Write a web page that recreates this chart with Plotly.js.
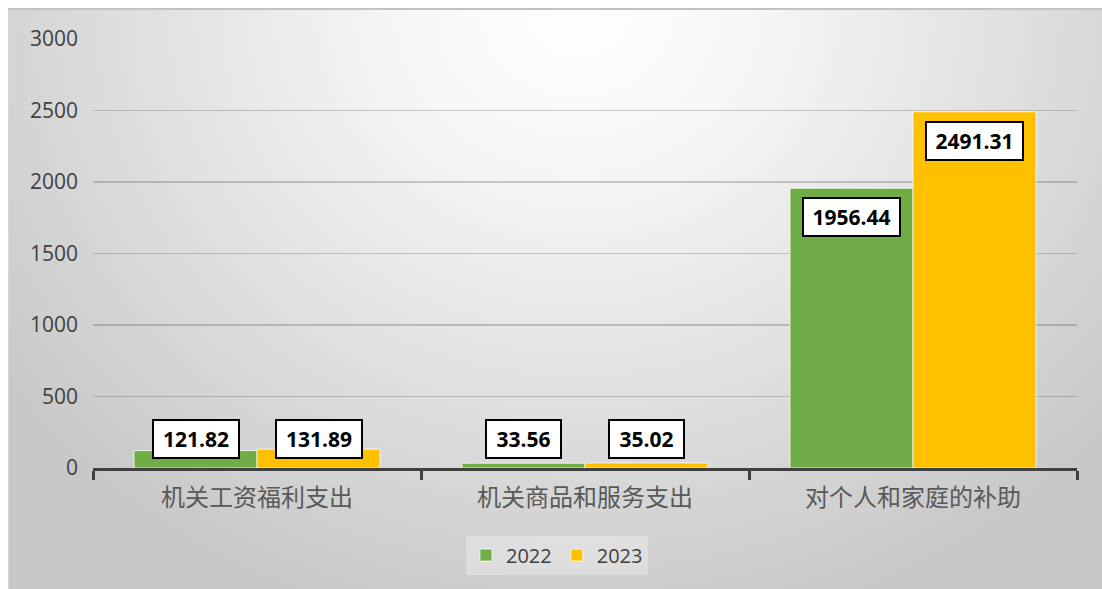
<!DOCTYPE html>
<html>
<head>
<meta charset="utf-8">
<script src="https://cdn.plot.ly/plotly-3.0.1.min.js"></script>
<style>
  html, body { margin: 0; padding: 0; background: #ffffff; }
  #wrap { position: relative; width: 1102px; height: 589px; overflow: hidden; }
  #bg {
    position: absolute; left: 8px; top: 8px; width: 1094px; height: 581px;
    border-top: 2px solid #c2c2c2; border-left: 1px solid #d6d6d6; box-sizing: border-box;
    background: radial-gradient(ellipse 65% 110% at 52% 0%, #ffffff 0%, #f6f6f6 25%, #e4e4e4 55%, #d4d4d4 80%, #c8c8c8 100%);
  }
  #chart { position: absolute; left: 0; top: 0; width: 1102px; height: 589px; }
</style>
</head>
<body>
<div id="wrap">
  <div id="bg"></div>
  <div id="chart"></div>
</div>
<script>
const categories = ["机关工资福利支出", "机关商品和服务支出", "对个人和家庭的补助"];
const seriesNames = ["2022", "2023"];
const values2022 = [121.82, 33.56, 1956.44];
const values2023 = [131.89, 35.02, 2491.31];
const yTicks = [0, 500, 1000, 1500, 2000, 2500, 3000];

const colors = ["#70AD47", "#FFC000"];
const allValues = [values2022, values2023];

const traces = allValues.map((vals, i) => ({
  type: "bar",
  name: seriesNames[i],
  x: categories,
  y: vals,
  marker: { color: colors[i], line: { color: "rgba(255,255,255,0.75)", width: 1 } },
  hoverinfo: "skip"
}));

const bargap = 0.25;
const barW = (1 - bargap) / 2;
const annotations = [];
allValues.forEach((vals, s) => {
  vals.forEach((v, c) => {
    const txt = v.toFixed(2);
    annotations.push({
      xref: "x", yref: "y",
      x: c + (s === 0 ? -barW / 2 : barW / 2),
      y: Math.max(v, 406),
      yshift: -29,
      text: txt,
      showarrow: false,
      xanchor: "center", yanchor: "middle",
      font: { family: "Open Sans, Liberation Sans, sans-serif", size: 21, color: "#000000", weight: "bold" },
      bgcolor: "#ffffff",
      bordercolor: "#000000",
      borderwidth: 2,
      borderpad: 5,
      width: 11 * txt.length + 8,
      height: 26
    });
  });
});

const layout = {
  width: 1102, height: 589,
  margin: { l: 93, r: 25, t: 39, b: 121 },
  paper_bgcolor: "rgba(0,0,0,0)",
  plot_bgcolor: "rgba(0,0,0,0)",
  barmode: "group",
  bargap: bargap,
  bargroupgap: 0,
  showlegend: true,
  legend: {
    orientation: "h",
    x: 0.4715, xanchor: "center",
    y: -0.203, yanchor: "middle",
    bgcolor: "rgba(255,255,255,0.3)",
    font: { family: "Open Sans, sans-serif", size: 20, color: "#404040" },
    itemclick: false, itemdoubleclick: false
  },
  xaxis: {
    type: "category",
    showline: true, linecolor: "#404040", linewidth: 3,
    ticks: "outside", tickson: "boundaries", ticklen: 9, tickwidth: 3, tickcolor: "#404040",
    showgrid: false,
    tickfont: { family: "Noto Sans CJK SC, sans-serif", size: 24, color: "#595959" },
    ticklabelstandoff: 6,
    fixedrange: true
  },
  yaxis: {
    range: [0, 3000],
    tickvals: yTicks,
    ticktext: yTicks.map(String),
    showgrid: true, gridcolor: "rgba(60,60,60,0.25)", gridwidth: 1.5,
    zeroline: false,
    showline: false,
    ticks: "",
    ticklabelstandoff: 14,
    tickfont: { family: "Open Sans, sans-serif", size: 21, color: "#404040" },
    fixedrange: true
  },
  annotations: annotations
};

Plotly.newPlot("chart", traces, layout, { displayModeBar: false, staticPlot: true });
</script>
</body>
</html>
